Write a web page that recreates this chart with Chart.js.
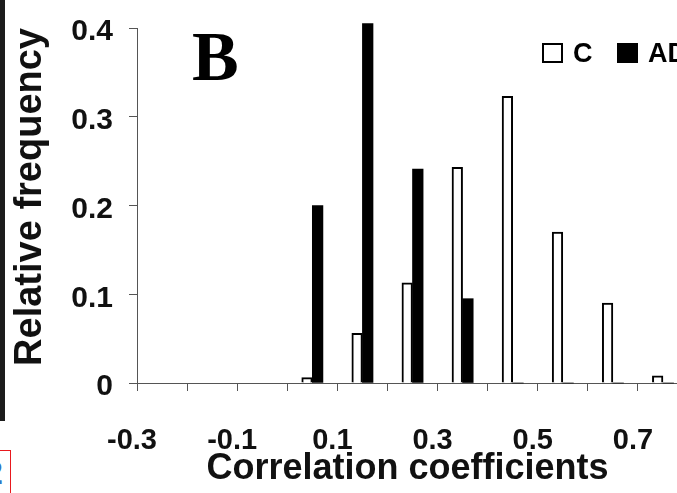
<!DOCTYPE html>
<html>
<head>
<meta charset="utf-8">
<title>Correlation coefficients</title>
<script src="https://cdn.jsdelivr.net/npm/chart.js@4.4.1/dist/chart.umd.min.js"></script>
<style>
    html, body { margin: 0; padding: 0; background: #fff; overflow: hidden; }
    #marco { position: absolute; left: 0; top: 0; width: 680px; height: 493px; }
    #barra { position: absolute; left: 0; top: 0; width: 5px; height: 421px; background: #1c1c1c; }
    #caja { position: absolute; left: -20px; top: 450px; width: 29px; height: 60px;
            border: 1.5px solid #e8191e; overflow: hidden; }
    #caja span { position: absolute; left: 3px; top: 4px; font: bold 34px "Liberation Sans", Arial, sans-serif;
                 line-height: 1; color: #2f76c4; }
</style>
</head>
<body>
<div id="barra"></div>
<div id="caja"><span>2</span></div>
<div id="marco"><canvas id="grafico"></canvas></div>
<script>
const centros = [0.05, 0.15, 0.25, 0.35, 0.45, 0.55, 0.65, 0.75];
const valoresC = [0.006, 0.056, 0.113, 0.243, 0.323, 0.170, 0.090, 0.008];
const valoresAD = [0.200, 0.405, 0.241, 0.095, 0, 0, 0, 0];
const series = ['C', 'AD'];
const etiquetasX = ['-0.3', '-0.1', '0.1', '0.3', '0.5', '0.7'];
const etiquetasY = ['0', '0.1', '0.2', '0.3', '0.4'];

const fuente = '"Liberation Sans", Arial, sans-serif';

// Leyenda y letra del panel dibujadas sobre el area del grafico
const extras = {
    id: 'extras',
    afterDraw(chart) {
        const ctx = chart.ctx;
        ctx.save();
        ctx.font = 'bold 70px "Liberation Serif", "Times New Roman", serif';
        ctx.fillStyle = '#000';
        ctx.textBaseline = 'alphabetic';
        ctx.fillText('B', 192, 80);

        const cajas = [542, 617];
        chart.data.datasets.forEach((ds, i) => {
            const x = cajas[i];
            ctx.fillStyle = ds.backgroundColor;
            ctx.fillRect(x, 43, 21, 20);
            ctx.strokeStyle = '#000';
            ctx.lineWidth = 2;
            ctx.strokeRect(x + 1, 44, 19, 18);
            ctx.fillStyle = '#000';
            ctx.font = 'bold 27px ' + fuente;
            ctx.textBaseline = 'middle';
            ctx.fillText(ds.label, x + 31, 55);
        });
        ctx.restore();
    }
};

function crearGrafico() {
    const ctx = document.getElementById('grafico').getContext('2d');
    new Chart(ctx, {
        type: 'bar',
        data: {
            datasets: [{
                label: series[0],
                data: centros.map((x, i) => ({ x: x, y: valoresC[i] })),
                backgroundColor: '#ffffff',
                borderColor: '#000000',
                borderWidth: 2,
                barThickness: 10.6,
                clip: false
            }, {
                label: series[1],
                data: centros.map((x, i) => ({ x: x, y: valoresAD[i] })),
                backgroundColor: '#000000',
                borderColor: '#000000',
                borderWidth: 0,
                barThickness: 10.6,
                clip: false
            }]
        },
        options: {
            responsive: true,
            maintainAspectRatio: false,
            animation: false,
            layout: { padding: { left: 0, top: 28, right: 2, bottom: 0 } },
            scales: {
                x: {
                    type: 'linear',
                    min: -0.3,
                    max: 0.78,
                    offset: false,
                    afterFit: (s) => {
                        s.height = 110;
                        s.paddingLeft = 0;
                        s.paddingRight = 0;
                    },
                    afterBuildTicks: (s) => {
                        const t = [];
                        for (let k = -3; k <= 7; k++) t.push({ value: k / 10 });
                        s.ticks = t;
                    },
                    ticks: {
                        autoSkip: false,
                        maxRotation: 0,
                        padding: 33,
                        labelOffset: -5,
                        color: '#111',
                        font: { family: fuente, size: 29, weight: 'bold' },
                        callback: (v) => {
                            const s = (Math.round(v * 10) / 10).toFixed(1);
                            return etiquetasX.includes(s) ? s : '';
                        }
                    },
                    grid: { offset: false, drawOnChartArea: false, tickLength: 8, color: '#555' },
                    border: { color: '#555', width: 1 },
                    title: {
                        display: true,
                        text: 'Correlation coefficients',
                        color: '#111',
                        font: { family: fuente, size: 36, weight: 'bold' },
                        padding: { top: 0, bottom: 2 }
                    }
                },
                y: {
                    min: 0,
                    max: 0.4,
                    afterFit: (s) => {
                        s.width = 137;
                        s.paddingTop = 0;
                        s.paddingBottom = 0;
                    },
                    ticks: {
                        stepSize: 0.1,
                        padding: 16,
                        labelOffset: 4,
                        color: '#111',
                        font: { family: fuente, size: 30, weight: 'bold' },
                        callback: (v) => etiquetasY[Math.round(v * 10)]
                    },
                    grid: { drawOnChartArea: false, tickLength: 8, color: '#555' },
                    border: { color: '#555', width: 1 },
                    title: {
                        display: true,
                        text: 'Relative frequency',
                        align: 'end',
                        color: '#111',
                        font: { family: fuente, size: 38, weight: 'bold' },
                        padding: { top: 8, bottom: 0 }
                    }
                }
            },
            plugins: {
                legend: { display: false },
                tooltip: { enabled: true }
            }
        },
        plugins: [extras]
    });
}

document.addEventListener('DOMContentLoaded', function() {
    crearGrafico();
});
</script>
</body>
</html>
